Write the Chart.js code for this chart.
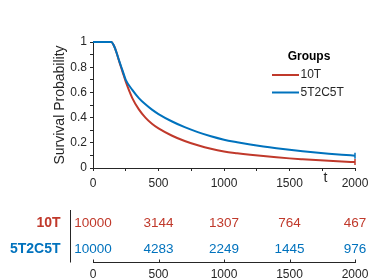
<!DOCTYPE html>
<html>
<head>
<meta charset="utf-8">
<script src="https://cdn.jsdelivr.net/npm/chart.js@4/dist/chart.umd.min.js"></script>
<style>
  body { margin: 0; background: #fff; }
  #wrap { position: relative; width: 374px; height: 280px; }
  #kmChart { position: absolute; left: 0; top: 0; }
  #riskChart { position: absolute; left: 0; top: 190px; }
</style>
</head>
<body>
<div id="wrap">
  <canvas id="kmChart" width="374" height="190"></canvas>
  <canvas id="riskChart" width="374" height="90"></canvas>
</div>
<script>
// survival curves
const groups = ['10T', '5T2C5T'];
const times = [0, 100, 140, 160, 180, 200, 225, 250, 300, 350, 400, 450, 500,
    600, 700, 800, 900, 1000, 1100, 1200, 1300, 1400, 1500, 1600, 1700, 1800, 1900, 2000];
const surv10T = [1, 1, 1, 0.97, 0.915, 0.845, 0.765, 0.685, 0.555, 0.465, 0.40, 0.351, 0.314,
    0.258, 0.214, 0.18, 0.152, 0.131, 0.117, 0.105, 0.0945, 0.085, 0.0764, 0.0693, 0.0628, 0.0569, 0.0516, 0.0467];
const surv5T2C5T = [1, 1, 1, 0.97, 0.915, 0.85, 0.775, 0.70, 0.62, 0.555, 0.505, 0.463, 0.428,
    0.371, 0.324, 0.285, 0.252, 0.225, 0.205, 0.187, 0.171, 0.157, 0.1445, 0.1335, 0.1233, 0.114, 0.1055, 0.098];
// numbers at risk
const riskTimes = [0, 500, 1000, 1500, 2000];
const risk10T = [10000, 3144, 1307, 764, 467];
const risk5T2C5T = [10000, 4283, 2249, 1445, 976];

const red = 'rgb(192, 57, 43)';
const blue = 'rgb(0, 114, 189)';
const axisCol = '#262626';
const fam = '"Liberation Sans", Arial, sans-serif';

function pts(ys) {
    return times.map((t, i) => ({ x: t, y: ys[i] }));
}
function endMarker(n) {
    return times.map((t, i) => i === n - 1 ? 3 : 0);
}

// legend + x label
const kmExtras = {
    id: 'kmExtras',
    afterDraw(chart) {
        const ctx = chart.ctx;
        ctx.save();
        ctx.fillStyle = '#000';
        ctx.font = 'bold 12px ' + fam;
        ctx.textAlign = 'center';
        ctx.textBaseline = 'middle';
        ctx.fillText('Groups', 309, 57);
        const rows = [[groups[0], red, 75], [groups[1], blue, 92.5]];
        ctx.font = '12px ' + fam;
        ctx.textAlign = 'left';
        rows.forEach(r => {
            ctx.strokeStyle = r[1];
            ctx.lineWidth = 2;
            ctx.beginPath();
            ctx.moveTo(272, r[2]);
            ctx.lineTo(299, r[2]);
            ctx.stroke();
            ctx.fillStyle = axisCol;
            ctx.fillText(r[0], 300.5, r[2]);
        });
        ctx.font = '14px ' + fam;
        ctx.textAlign = 'center';
        ctx.fillText('t', 325.5, 178);
        ctx.restore();
    }
};

new Chart(document.getElementById('kmChart'), {
    type: 'line',
    data: {
        datasets: [
            {
                label: groups[1],
                data: pts(surv5T2C5T),
                borderColor: blue,
                borderWidth: 2,
                cubicInterpolationMode: 'monotone',
                pointStyle: 'line',
                rotation: 90,
                pointRadius: endMarker(times.length),
                pointBorderWidth: 1.5,
                clip: false,
                order: 0
            },
            {
                label: groups[0],
                data: pts(surv10T),
                borderColor: red,
                borderWidth: 2,
                cubicInterpolationMode: 'monotone',
                pointStyle: 'line',
                rotation: 90,
                pointRadius: endMarker(times.length),
                pointBorderWidth: 1.5,
                clip: false,
                order: 1
            }
        ]
    },
    options: {
        responsive: false,
        animation: false,
        layout: { padding: { top: 42, right: 19, left: 0, bottom: 0 } },
        plugins: { legend: { display: false }, tooltip: { enabled: false } },
        scales: {
            x: {
                type: 'linear',
                min: 0,
                max: 2000,
                ticks: {
                    stepSize: 250,
                    autoSkip: false,
                    maxRotation: 0,
                    padding: 5,
                    color: axisCol,
                    font: { family: fam, size: 12 },
                    callback: v => v % 500 === 0 ? String(v) : ''
                },
                grid: { drawOnChartArea: false, tickLength: 3, tickColor: axisCol },
                border: { color: axisCol },
                afterFit: s => { s.height = 22; }
            },
            y: {
                min: 0,
                max: 1,
                ticks: {
                    stepSize: 0.1,
                    autoSkip: false,
                    padding: 3,
                    color: axisCol,
                    font: { family: fam, size: 12 },
                    callback: v => Math.round(v * 10) % 2 === 0 ? String(Number(v.toFixed(1))) : ''
                },
                grid: { drawOnChartArea: false, tickLength: 3, tickColor: axisCol },
                border: { color: axisCol },
                title: {
                    display: true,
                    text: 'Survival Probability',
                    color: axisCol,
                    font: { family: fam, size: 14 },
                    padding: { top: 52, bottom: 0 }
                },
                afterFit: s => { s.width = 93; }
            }
        }
    },
    plugins: [kmExtras]
});

// risk table
const riskRows = [risk10T, risk5T2C5T];
const rowColors = [red, blue];
const riskExtras = {
    id: 'riskExtras',
    afterDraw(chart) {
        const ctx = chart.ctx;
        const xs = chart.scales.x;
        const ys = chart.scales.y;
        const area = chart.chartArea;
        ctx.save();
        ctx.font = '13.5px ' + fam;
        ctx.textAlign = 'center';
        ctx.textBaseline = 'middle';
        riskRows.forEach((row, i) => {
            ctx.fillStyle = rowColors[i];
            row.forEach((n, j) => {
                ctx.fillText(String(n), xs.getPixelForValue(riskTimes[j]), ys.getPixelForValue(i));
            });
        });
        ctx.strokeStyle = axisCol;
        ctx.lineWidth = 1;
        ctx.beginPath();
        // divider between group names and counts
        ctx.moveTo(70.5, area.top);
        ctx.lineTo(70.5, area.bottom);
        // inward ticks on the time axis
        riskTimes.forEach(t => {
            const x = Math.round(xs.getPixelForValue(t)) + 0.5;
            ctx.moveTo(x, area.bottom);
            ctx.lineTo(x, area.bottom - 3);
        });
        ctx.stroke();
        ctx.restore();
    }
};

new Chart(document.getElementById('riskChart'), {
    type: 'line',
    data: { datasets: [] },
    options: {
        responsive: false,
        animation: false,
        layout: { padding: { top: 20, right: 19, left: 0, bottom: 0 } },
        plugins: { legend: { display: false }, tooltip: { enabled: false } },
        scales: {
            x: {
                type: 'linear',
                min: 0,
                max: 2000,
                ticks: {
                    stepSize: 500,
                    maxRotation: 0,
                    padding: 5,
                    color: axisCol,
                    font: { family: fam, size: 12 },
                    callback: v => String(v)
                },
                grid: { drawOnChartArea: false, drawTicks: false },
                border: { color: axisCol },
                afterFit: s => { s.height = 17.5; }
            },
            y: {
                type: 'category',
                labels: groups,
                offset: true,
                ticks: {
                    padding: 24.5,
                    color: c => rowColors[c.index],
                    font: { family: fam, size: 14, weight: 'bold' }
                },
                grid: { display: false },
                border: { display: false },
                afterFit: s => { s.width = 93; s.paddingTop = 0; s.paddingBottom = 0; }
            }
        }
    },
    plugins: [riskExtras]
});
</script>
</body>
</html>
